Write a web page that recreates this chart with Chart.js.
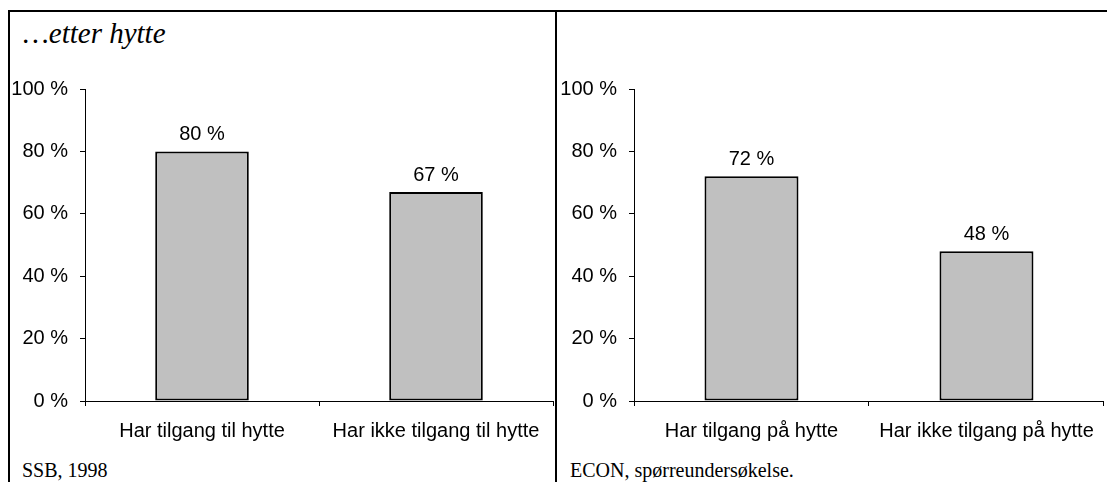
<!DOCTYPE html>
<html>
<head>
<meta charset="utf-8">
<script src="https://cdn.jsdelivr.net/npm/chart.js@4/dist/chart.umd.min.js"></script>
<style>
  html, body { margin: 0; padding: 0; background: #fff; }
  body { width: 1107px; height: 482px; position: relative; overflow: hidden; }
  .rule { position: absolute; background: #000; }
  .txt { position: absolute; white-space: nowrap; color: #000; }
  .serif { font-family: "Liberation Serif", "Times New Roman", serif; }
  .wrap { position: absolute; }
</style>
</head>
<body>
<!-- frame -->
<div class="rule" style="left:8px; top:10px; width:2px; height:472px;"></div>
<div class="rule" style="left:8px; top:10px; width:1099px; height:2px;"></div>
<div class="rule" style="left:555px; top:10px; width:2px; height:472px;"></div>

<div class="txt serif" style="left:23px; top:16px; font-size:29px; font-style:italic; line-height:34px;">…etter hytte</div>
<div class="txt serif" style="left:22px; top:458px; font-size:20px; line-height:24px;">SSB, 1998</div>
<div class="txt serif" style="left:570px; top:458px; font-size:20px; line-height:24px;">ECON, spørreundersøkelse.</div>

<div class="wrap" style="left:10px; top:60px; width:545px; height:390px;"><canvas id="left"></canvas></div>
<div class="wrap" style="left:559px; top:60px; width:548px; height:390px;"><canvas id="right"></canvas></div>

<script>
// Share of respondents, in percent
const leftCategories = ['Har tilgang til hytte', 'Har ikke tilgang til hytte'];
const leftValues = [80, 67];
const rightCategories = ['Har tilgang på hytte', 'Har ikke tilgang på hytte'];
const rightValues = [72, 48];
const yTicks = [0, 20, 40, 60, 80, 100];

const FONT = '"Liberation Sans", Arial, sans-serif';
const fmt = v => v + ' %';

// Writes each bar's value just above it
const valueLabels = {
  id: 'valueLabels',
  afterDatasetsDraw(chart) {
    const ctx = chart.ctx;
    const ds = chart.data.datasets[0];
    chart.getDatasetMeta(0).data.forEach((bar, i) => {
      ctx.save();
      ctx.font = '20px ' + FONT;
      ctx.fillStyle = '#000';
      ctx.textAlign = 'center';
      ctx.textBaseline = 'alphabetic';
      ctx.fillText(fmt(ds.data[i]), bar.x, bar.y - 11);
      ctx.restore();
    });
  }
};

function makeChart(id, categories, values, padRight) {
  return new Chart(document.getElementById(id), {
    type: 'bar',
    data: {
      labels: categories,
      datasets: [{
        data: values,
        backgroundColor: '#c0c0c0',
        borderColor: '#000',
        borderWidth: 2,
        borderSkipped: false,
        barPercentage: 0.8,
        categoryPercentage: 0.5
      }]
    },
    options: {
      responsive: true,
      maintainAspectRatio: false,
      animation: false,
      layout: { padding: { top: 29, right: padRight, left: 0, bottom: 0 } },
      plugins: { legend: { display: false }, tooltip: { enabled: false } },
      scales: {
        x: {
          grid: { drawOnChartArea: false, drawTicks: true, tickLength: 5, color: '#000', offset: true },
          border: { color: '#000', width: 1 },
          ticks: { color: '#000', font: { family: FONT, size: 20 }, padding: 13, maxRotation: 0 },
          afterFit(scale) { scale.height = 49; }
        },
        y: {
          min: 0, max: 100,
          afterBuildTicks(scale) { scale.ticks = yTicks.map(v => ({ value: v })); },
          grid: { drawOnChartArea: false, drawTicks: true, tickLength: 5, color: '#000' },
          border: { color: '#000', width: 1 },
          ticks: { color: '#000', font: { family: FONT, size: 20 }, padding: 12, callback: v => fmt(v) },
          afterFit(scale) { scale.width = 75; }
        }
      }
    },
    plugins: [valueLabels]
  });
}

makeChart('left', leftCategories, leftValues, 2);
makeChart('right', rightCategories, rightValues, 1);
</script>
</body>
</html>
